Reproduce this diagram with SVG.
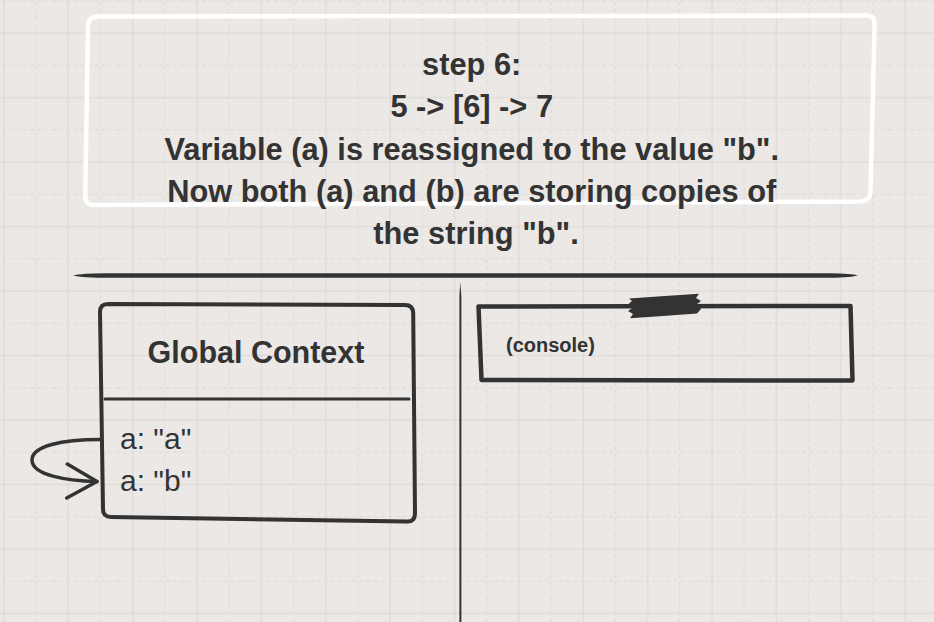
<svg xmlns="http://www.w3.org/2000/svg" width="934" height="622" viewBox="0 0 934 622">
  <defs>
    <pattern id="grid" patternUnits="userSpaceOnUse" x="-12" y="17" width="64.36" height="64.48">
      <line x1="16" y1="0" x2="16" y2="64.48" stroke="#d9d6d3" stroke-width="1"/>
      <line x1="0" y1="16" x2="64.36" y2="16" stroke="#d9d6d3" stroke-width="1"/>
      <line x1="48.18" y1="0" x2="48.18" y2="64.48" stroke="#dcd9d6" stroke-width="1" stroke-dasharray="4 3"/>
      <line x1="0" y1="48.24" x2="64.36" y2="48.24" stroke="#dcd9d6" stroke-width="1" stroke-dasharray="4 3"/>
    </pattern>
    <marker id="openArrow" viewBox="0 0 36 40" refX="32" refY="20" markerWidth="36" markerHeight="40" markerUnits="userSpaceOnUse" orient="auto">
      <path d="M2,3 L32,20 L2,37" fill="none" stroke="#333333" stroke-width="3.5" stroke-linecap="round" stroke-linejoin="round"/>
    </marker>
    <style>
      .txt { font-family: "Liberation Sans", Arial, Helvetica, sans-serif; fill: #333333; }
      .bold { font-weight: bold; }
      .ink { fill: none; stroke: #333333; stroke-linecap: round; stroke-linejoin: round; }
    </style>
  </defs>

  <rect x="0" y="0" width="934" height="622" fill="#ebe8e5"/>
  <rect x="0" y="0" width="934" height="622" fill="url(#grid)"/>

  <!-- separators -->
  <path d="M73,275.5 Q82,273 110,273.2 L830,273.2 Q852,273.4 858,275.3 Q852,277.6 830,277.8 L110,277.8 Q82,277.8 73,275.5 Z" fill="#333333"/>
  <path d="M460.2,282 L461.4,296 L461.4,622 L459.4,622 L459.4,296 Z" fill="#333333"/>

  <g id="title">
    <path d="M98,16.5 L866,15.5 Q875,15.5 874.6,24 L870.5,192 Q870,201 861,201.5 L94,205 Q85,205 85.2,196 L88,26 Q88.3,16.5 98,16.5 Z" fill="none" stroke="#ffffff" stroke-width="4.5" stroke-linejoin="round"/>
    <text class="txt bold" font-size="30.8" text-anchor="middle">
      <tspan x="476" y="75">step 6:</tspan>
      <tspan x="476" y="117">5 -&gt; [6] -&gt; 7</tspan>
      <tspan x="476" y="159.5">Variable (a) is reassigned to the value "b".</tspan>
      <tspan x="476" y="202">Now both (a) and (b) are storing copies of</tspan>
      <tspan x="476" y="243.5">the string "b".</tspan>
    </text>
  </g>

  <g id="global-context">
    <path class="ink" stroke-width="4" d="M108,304 L405,305 Q413,305 413.2,313 L415,513 Q415,522 407,521.5 L111,517 Q103,517 103,509 L100,312 Q100,304 108,304 Z"/>
    <line class="ink" stroke-width="3" x1="105" y1="399" x2="409" y2="399"/>
    <text class="txt bold" font-size="30.5" x="256" y="363" text-anchor="middle">Global Context</text>
    <text class="txt" font-size="30" x="120" y="448.5">a: "a"</text>
    <text class="txt" font-size="30" x="120" y="490.5">a: "b"</text>
  </g>

  <g id="console">
    <path class="ink" stroke-width="4.5" d="M478.5,306.5 L850.5,306 L852.5,380.5 L481.5,380 Z" stroke-linecap="butt" stroke-linejoin="miter"/>
    <path d="M629,298.5 L665,296 L699,293.8 L696,298 L701,301 L697,304 L701,309 L697,313.5 L663,316 L630,318.3 L633,314 L628,311 L633,307.5 L628,304.5 L632,301 Z" fill="#333333"/>
    <text class="txt bold" font-size="20" x="506" y="352">(console)</text>
  </g>

  <g id="connectors">
    <path class="ink" stroke-width="3.5" d="M100,439.5 C62,439.5 32,446 32,460 C32,475 66,481 97,481.5" marker-end="url(#openArrow)"/>
  </g>
</svg>
